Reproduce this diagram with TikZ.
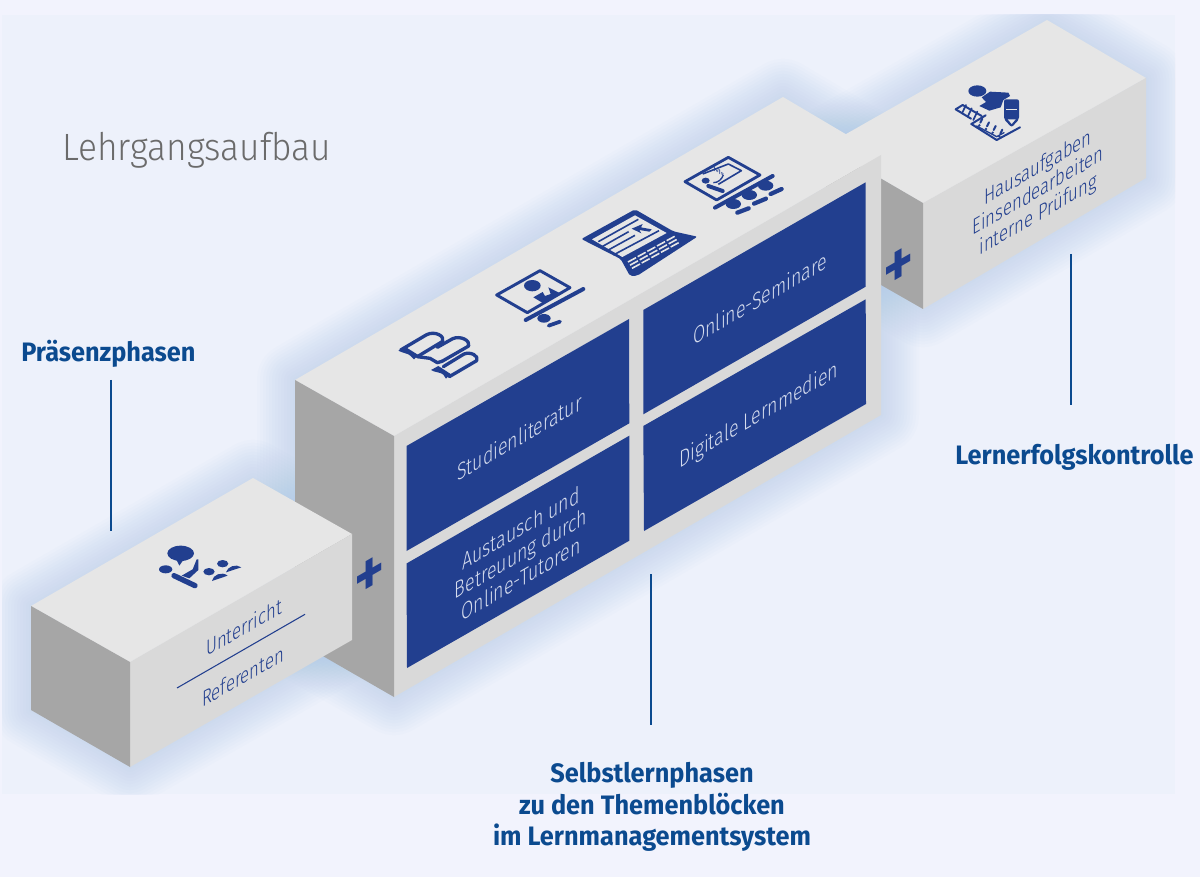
\documentclass[tikz,border=0pt]{standalone}
\usepackage{fontspec}
\setmainfont{Fira Sans}[UprightFont=* Light,BoldFont=* SemiBold]
\newfontfamily\facefont{Fira Sans}[UprightFont=* Light,FakeStretch=.88]
\newfontfamily\titlefont{Fira Sans}[UprightFont=* Light,FakeStretch=.93]
\newfontfamily\headfont{Fira Sans}[UprightFont=* Bold,FakeStretch=.95]
\definecolor{outerbg}{HTML}{F2F3FD}
\definecolor{innerbg}{HTML}{EDF1FB}
\definecolor{topf}{HTML}{E6E6E6}
\definecolor{frontf}{HTML}{D9D9D9}
\definecolor{sidef}{HTML}{A6A6A6}
\definecolor{navy}{HTML}{223F8F}
\definecolor{lab}{HTML}{0B4A8F}
\definecolor{glowc}{HTML}{9DBEE8}
\definecolor{paneltext}{HTML}{D5DCEE}
\definecolor{headc}{HTML}{6B6B6B}
\newcommand{\glow}[1]{\foreach \w in {4,10,...,76}{\draw[glowc,line width=\w*0.75pt,opacity=.03,line join=round,fill=none] #1;}}
\tikzset{
  x=.75pt,y=-.75pt,
  panel/.style={fill=navy,draw=none},
  iso/.style={cm={.866,.5,0,1,(0,0)},align=center,inner sep=0pt},
  paneltxt/.style={iso,text=paneltext,font=\facefont\fontsize{17.5}{19}\selectfont},
  boxtxt/.style={iso,text=navy,font=\facefont\fontsize{16.5}{17.7}\selectfont},
  pluss/.style={iso,text=navy,font=\fontsize{50}{50}\selectfont\bfseries},
  heading/.style={text=lab,font=\headfont\fontsize{20}{23.6}\selectfont,align=center,inner sep=0pt},
  rulel/.style={draw=lab,line width=1.9pt},
  ic/.style={draw=navy,fill=none,line width=2.5pt,line join=round,line cap=round},
  icf/.style={fill=navy,draw=none},
  icon/.style={x=.25pt,y=-.25pt},
}
\begin{document}
\begin{tikzpicture}
\path[use as bounding box,fill=outerbg] (0,0) rectangle (1200,877);
\fill[innerbg] (2,15) rectangle (1175,794);
% glows
\begin{scope}
\clip (2,15) rectangle (1175,794);
\glow{(825,146)--(1047,20)--(1146,78)--(1146,178)--(923,309)--(825,253)--cycle}
\glow{(295,380)--(783,97)--(881,155)--(881,415)--(394,697)--(295,640)--cycle}
\glow{(31,606)--(253,478)--(352,534)--(352,640)--(130,767)--(31,710)--cycle}
\end{scope}
% right box
\fill[topf] (825,146)--(1047,20)--(1146,78)--(923,203)--cycle;
\fill[frontf] (923,203)--(1146,78)--(1146,178)--(923,309)--cycle;
\fill[sidef] (825,146)--(923,203)--(923,309)--(825,253)--cycle;
% main box
\fill[topf] (295,380)--(783,97)--(881,155)--(394,436)--cycle;
\fill[frontf] (394,436)--(881,155)--(881,415)--(394,697)--cycle;
\fill[sidef] (295,380)--(394,436)--(394,697)--(295,640)--cycle;
% left box
\fill[topf] (31,606)--(253,478)--(352,534)--(130,662)--cycle;
\fill[frontf] (130,662)--(352,534)--(352,640)--(130,767)--cycle;
\fill[sidef] (31,606)--(130,662)--(130,767)--(31,710)--cycle;
% panels
\fill[panel] (406.5,446)--(629,319)--(629.3,423.3)--(406.5,551)--cycle;
\fill[panel] (406.5,563.5)--(629.3,435.7)--(629.3,540.7)--(407,668)--cycle;
\fill[panel] (643.3,310)--(865.7,182.3)--(865.7,286.7)--(643.3,414.3)--cycle;
\fill[panel] (643.3,426)--(865.7,299.3)--(866,404)--(644,531)--cycle;
% panel texts
\node[paneltxt] (studien) at (519.5,437) {Studienliteratur};
\node[paneltxt] (austausch) at (521,553) {Austausch und\\Betreuung durch\\Online-Tutoren};
\node[paneltxt] (online) at (760,298) {Online-Seminare};
\node[paneltxt] (digital) at (758.6,416) {Digitale Lernmedien};
% left box text
\node[boxtxt] (unterricht) at (244,627) {Unterricht};
\node[boxtxt] (referenten) at (243,676) {Referenten};
\coordinate (divA) at (177,688);
\coordinate (divB) at (305,614.3);
\draw[navy,line width=.8pt] (divA)--(divB);
\node[boxtxt] (haus) at (1038,192) {Hausaufgaben\\Einsendearbeiten\\interne Prüfung};
\node[pluss] (plusA) at (370,578) {+};
\node[pluss] (plusB) at (899,269) {+};
% headings
\node[text=headc,font=\titlefont\fontsize{28.5}{32}\selectfont,anchor=west,inner sep=0pt] (title) at (62,150) {Lehrgangsaufbau};
\node[heading,anchor=west] (praes) at (21,354) {Präsenzphasen};
\node[heading,anchor=west] (lerner) at (955,457) {Lernerfolgskontrolle};
\node[heading] (selbst) at (652,807) {Selbstlernphasen\\zu den Themenblöcken\\im Lernmanagementsystem};
\coordinate (pA) at (111,380); \coordinate (pB) at (111,531);
\coordinate (lA) at (1071,254); \coordinate (lB) at (1071,405);
\coordinate (sA) at (651,574); \coordinate (sB) at (651,725);
\draw[rulel] (pA)--(pB);
\draw[rulel] (lA)--(lB);
\draw[rulel] (sA)--(sB);
% icons in zoom coordinates
\begin{scope}[shift={(380,140)},icon]
 % books
 \draw[ic] (62,630)--(140,584) .. controls (165,572) and (195,588) .. (188,604)--(112,650);
 \draw[ic] (172,622)--(218,596) .. controls (242,586) and (272,602) .. (266,618)--(186,664);
 \draw[ic] (190,680)--(252,642) .. controls (272,634) and (298,648) .. (290,662)--(208,710);
 \fill[navy] (55,632)--(75,620)--(115,645)--(102,658)--(92,648) .. controls (85,640) and (70,640) .. cycle;
 \fill[navy] (153,690)--(175,678)--(212,702)--(198,716)--(190,704) .. controls (182,696) and (165,698) .. cycle;
 \draw[ic] (112,650)--(150,655)--(172,668)--(186,664);
 % slide
 \draw[ic,line width=2.2pt] (350,465)--(480,392)--(570,443)--(442,518)--cycle;
 \fill[navy] (457,437) ellipse [x radius=25,y radius=17];
 \fill[navy] (460,472)--(488,456)--(495,468)--(512,462)--(505,442)--(545,462)--(490,490)--cycle;
 \draw[navy,line width=3pt,line cap=round] (437,540)--(610,447);
 \fill[navy] (492,535) ellipse [x radius=20,y radius=13];
 \draw[navy,line width=2.8pt,line cap=round] (506,557)--(540,545);
 % laptop
 \fill[navy,rounded corners=1.5pt] (604,297)--(765,208)--(880,274)--(952,290)--(772,407)--(750,408)--(722,357)--cycle;
 \fill[topf] (636,298)--(765,226)--(860,279)--(727,351)--cycle;
 \foreach \a/\b/\c/\d in {655/305/775/238,668/319/746/275,685/330/765/286,700/345/837/272}{\draw[navy,line width=1.2pt] (\a,\b)--(\c,\d);}
 \fill[navy] (755,266)--(788,252)--(783,262)--(815,268)--(808,275)--(778,270)--(784,280)--cycle;
 \foreach \i in {0,1,2}{\foreach \j in {0,1,2,3,4}{
   \draw[topf,line width=1.2pt] ({744+\j*29+\i*6},{366-\j*16+\i*9.5})--({768+\j*29+\i*6},{353-\j*16+\i*9.5});}}
 % seminar
 \draw[ic,line width=2.1pt] (915,125)--(1045,52)--(1140,105)--(1010,180)--cycle;
 \draw[navy,line width=1.2pt,line join=round] (968,102)--(1045,72)--(1084,92)--(1015,133);
 \fill[navy] (977,122) ellipse [x radius=12,y radius=9];
 \draw[navy,line width=3pt,line cap=round] (985,138)--(1028,153);
 \draw[navy,line width=1pt] (1000,128) .. controls (1015,128) and (1025,118) .. (1030,105);
 \node[text=navy,font=\fontsize{5}{5}\selectfont\bfseries,cm={.866,-.5,0,1,(0,0)},inner sep=0pt] (sum) at (1015,95) {1+1=};
 \draw[navy,line width=3pt,line cap=round] (1005,203)--(1178,108);
 \foreach \x/\y in {1060/192,1108/165,1157/137}{\fill[navy] (\x,\y) ellipse [x radius=23,y radius=15];}
 \foreach \a/\b/\c/\d in {1072/218/1106/205,1122/191/1158/176,1172/162/1205/147}{\draw[navy,line width=3.2pt,line cap=round] (\a,\b)--(\c,\d);}
\end{scope}
\begin{scope}[shift={(150,535)},icon]
 \fill[navy] (92,55) ellipse [x radius=40,y radius=23];
 \fill[navy] (78,72)--(100,75)--(88,92)--cycle;
 \fill[navy] (47,103) ellipse [x radius=20,y radius=12];
 \draw[navy,line width=4pt,line cap=round] (72,122)--(135,152);
 \fill[navy] (95,122)--(128,103)--(140,73)--(145,73)--(145,105)--(118,130)--cycle;
 \fill[navy] (177,110) ellipse [x radius=17,y radius=11];
 \fill[navy] (218,86) ellipse [x radius=17,y radius=11];
 \fill[navy] (186,138) .. controls (188,120) and (215,108) .. (233,122)--cycle;
 \fill[navy] (228,112) .. controls (232,95) and (258,85) .. (274,97)--cycle;
\end{scope}
\begin{scope}[shift={(840,20)},icon]
 \fill[navy] (412,213) ellipse [x radius=27,y radius=17];
 \fill[navy] (418,258)--(438,246)--(425,232)--(450,215)--(505,218)--(510,228)--(490,240)--(482,262)--(448,272)--cycle;
 \fill[navy,rounded corners=1.5pt] (492,238)--(537,238)--(537,298)--(515,322)--(492,298)--cycle;
 \fill[topf] (497,266)--(532,266)--(532,269)--(497,269)--cycle;
 \fill[topf] (503,298)--(527,298)--(515,312)--cycle;
 % paper
 \draw[ic,line width=1.5pt] (394,312)--(437,286);
 \draw[ic,line width=1.5pt] (394,312)--(470,360)--(540,322);
 \draw[ic,line width=1pt] (410,318)--(470,350)--(492,338);
 % coil
 \draw[ic,line width=1.5pt] (347,268)--(368,255)--(425,288);
 \draw[ic,line width=1.5pt] (347,268)--(393,296);
 \foreach \k in {0,1,2}{\draw[ic,line width=1.3pt] ({366+\k*17},{280+\k*10})--({378+\k*17},{255+\k*10});}
 % list marks
 \foreach \k in {0,1,2,3}{
   \draw[navy,line width=1.5pt,line cap=round] ({427+\k*20},{296+\k*11})--({421+\k*20},{308+\k*11});
   \fill[navy] ({418+\k*20},{316+\k*11}) circle [radius=4];}
\end{scope}
\end{tikzpicture}
\end{document}
